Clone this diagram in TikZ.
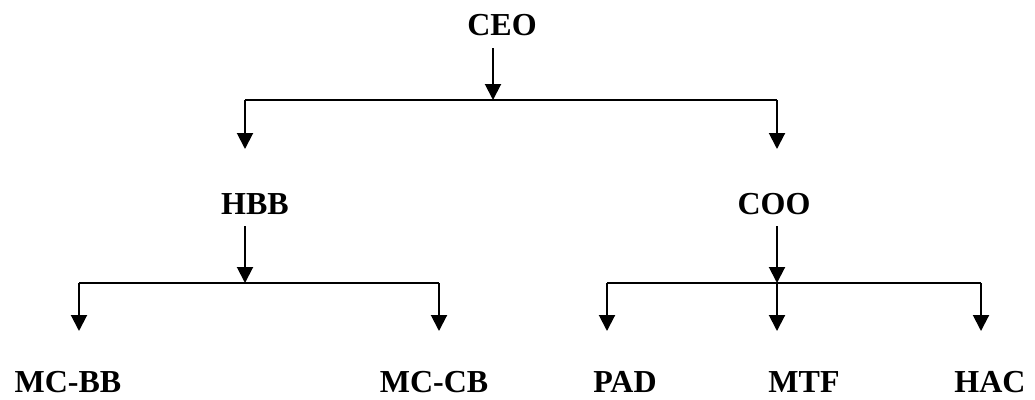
\documentclass[tikz,border=0pt]{standalone}
\usepackage{fontspec}
\setmainfont{Liberation Serif}
\usetikzlibrary{arrows.meta}
\begin{document}
\begin{tikzpicture}[x=1pt,y=-1pt,
  lbl/.style={font=\fontsize{32}{36}\selectfont\bfseries, inner sep=0pt, anchor=base},
  ln/.style={line width=2pt},
  arr/.style={line width=2pt, -{Triangle[width=16pt,length=16pt]}, shorten >=-1pt}]
\useasboundingbox (0,0) rectangle (1035,399);
% labels
\node[lbl] (ceo) at (502,35) {CEO};
\node[lbl] (hbb) at (255,214) {HBB};
\node[lbl] (coo) at (774,214) {COO};
\node[lbl] (mcbb) at (68,392) {MC-BB};
\node[lbl] (mccb) at (434,392) {MC-CB};
\node[lbl] (pad) at (625,392) {PAD};
\node[lbl] (mtf) at (804,392) {MTF};
\node[lbl] (hac) at (990,392) {HAC};
% junction coordinates
\coordinate (ceoS) at (493,48);
\coordinate (j1) at (493,99);
\coordinate (b1l) at (245,100);
\coordinate (b1r) at (777,100);
\coordinate (t1l) at (245,148);
\coordinate (t1r) at (777,148);
\coordinate (hbbS) at (245,226);
\coordinate (j2l) at (245,282);
\coordinate (b2ll) at (79,283);
\coordinate (b2lr) at (439,283);
\coordinate (t2a) at (79,330);
\coordinate (t2b) at (439,330);
\coordinate (cooS) at (777,226);
\coordinate (j2r) at (777,282);
\coordinate (b2rl) at (607,283);
\coordinate (b2rr) at (981,283);
\coordinate (b2rm) at (777,283);
\coordinate (t2c) at (607,330);
\coordinate (t2d) at (777,330);
\coordinate (t2e) at (981,330);
% top level
\draw[arr] (ceoS) -- (j1);
\draw[ln] (b1l) -- (b1r);
\draw[arr] (b1l) -- (t1l);
\draw[arr] (b1r) -- (t1r);
% HBB branch
\draw[arr] (hbbS) -- (j2l);
\draw[ln] (b2ll) -- (b2lr);
\draw[arr] (b2ll) -- (t2a);
\draw[arr] (b2lr) -- (t2b);
% COO branch
\draw[arr] (cooS) -- (j2r);
\draw[ln] (b2rl) -- (b2rr);
\draw[arr] (b2rl) -- (t2c);
\draw[arr] (b2rm) -- (t2d);
\draw[arr] (b2rr) -- (t2e);
\end{tikzpicture}
\end{document}
